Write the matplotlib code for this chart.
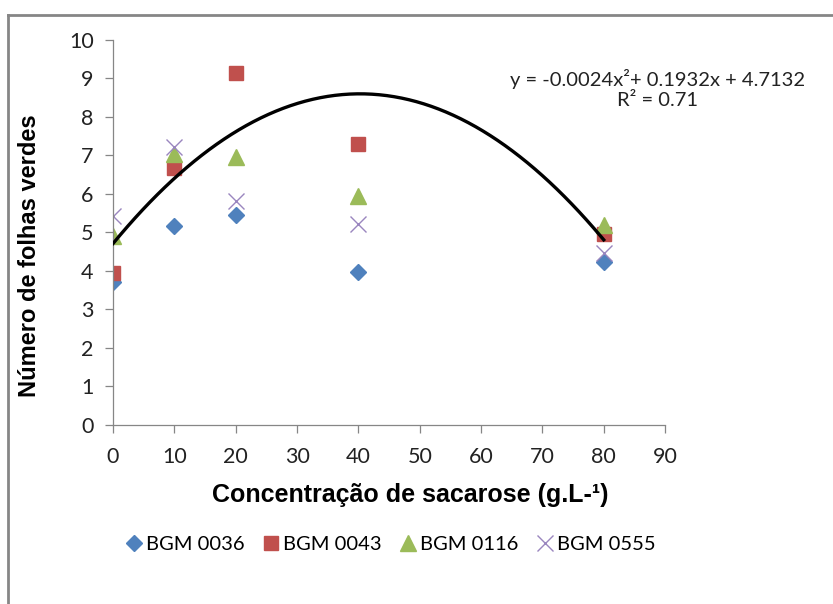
import numpy as np
import matplotlib.pyplot as plt
from matplotlib.lines import Line2D

# sucrose concentration (g/L)
conc = [0, 10, 20, 40, 80]

bgm_0036 = [3.72, 5.17, 5.45, 3.97, 4.23]
bgm_0043 = [3.95, 6.68, 9.14, 7.30, 4.96]
bgm_0116 = [4.91, 7.04, 6.96, 5.95, 5.19]
bgm_0555 = [5.43, 7.22, 5.82, 5.22, 4.47]

# quadratic trend line coefficients
coef = [-0.0024, 0.1932, 4.7132]

plt.rcParams['font.family'] = ['Lato', 'DejaVu Sans']

fig = plt.figure(figsize=(8.33, 6.04), dpi=100)
ax = fig.add_axes([0.1357, 0.2964, 0.6627, 0.6374])

ax.plot(conc, bgm_0036, linestyle='none', marker='D', markersize=8.5,
        color='#4F81BD', label='BGM 0036')
ax.plot(conc, bgm_0043, linestyle='none', marker='s', markersize=10.5,
        color='#C0504D', label='BGM 0043')
ax.plot(conc, bgm_0116, linestyle='none', marker='^', markersize=11,
        color='#9BBB59', label='BGM 0116')
ax.plot(conc, bgm_0555, linestyle='none', marker='x', markersize=11,
        markeredgewidth=1.0, color='#9A86BF', label='BGM 0555')

xs = np.linspace(0, 80, 200)
ax.plot(xs, np.polyval(coef, xs), color='black', linewidth=2.4, zorder=3)

ax.set_xlim(0, 90)
ax.set_ylim(0, 10)
ax.set_xticks(range(0, 91, 10))
ax.set_yticks(range(0, 11))
ax.tick_params(axis='both', colors='#868686', labelcolor='#222222',
               labelsize=15.5, length=6, width=0.9, direction='out')
ax.tick_params(axis='x', pad=10)
ax.tick_params(axis='y', pad=8)
for side in ['top', 'right']:
    ax.spines[side].set_visible(False)
for side in ['left', 'bottom']:
    ax.spines[side].set_color('#868686')
    ax.spines[side].set_linewidth(0.9)

ax.set_xlabel('Concentração de sacarose (g.L-¹)', fontsize=18,
              fontweight='bold', family=['Liberation Sans', 'DejaVu Sans'])
ax.xaxis.set_label_coords(0.538, -0.15)
ax.set_ylabel('Número de folhas verdes', fontsize=17, fontweight='bold',
              family=['Liberation Sans', 'DejaVu Sans'])
ax.yaxis.set_label_coords(-0.13, 0.44)

ax.text(0.967, 0.853, 'y = -0.0024x²+ 0.1932x + 4.7132\nR² = 0.71',
        transform=fig.transFigure, ha='right', va='center', fontsize=14.5,
        multialignment='center', color='#222222', linespacing=1.25)

fig.legend(loc='center', bbox_to_anchor=(0.468, 0.098), ncol=4, frameon=False,
           fontsize=14.5, handletextpad=0.1, columnspacing=0.8,
           handlelength=1.0)

# outer chart frame (left and top edges visible)
fig.add_artist(Line2D([0.0096, 0.0096], [0, 0.975], transform=fig.transFigure,
                      color='#868686', linewidth=2))
fig.add_artist(Line2D([0.0096, 1.0], [0.975, 0.975], transform=fig.transFigure,
                      color='#868686', linewidth=2))

fig.savefig('out.png', dpi=100)
